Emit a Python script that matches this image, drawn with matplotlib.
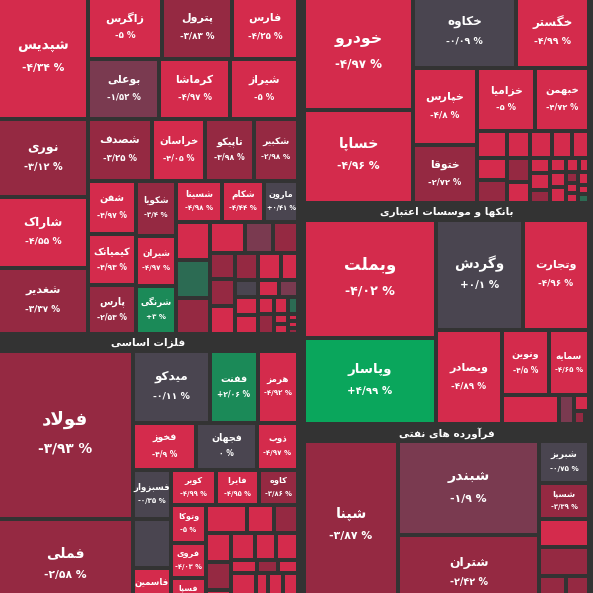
import matplotlib
matplotlib.use('Agg')
import matplotlib.pyplot as plt
from matplotlib.patches import Rectangle

plt.rcParams['font.family'] = ['DejaVu Sans']

# ---------------- data ----------------
sector_names = ['محصولات شیمیایی', 'فلزات اساسی', 'خودرو و ساخت قطعات',
                'بانکها و موسسات اعتباری', 'فرآورده های نفتی']

chem_names = ['شپدیس', 'نوری', 'شاراک', 'شغدیر', 'زاگرس', 'پترول', 'فارس', 'بوعلی',
              'کرماشا', 'شیراز', 'شصدف', 'خراسان', 'تاپیکو', 'شکبیر', 'شفن', 'کیمیاتک',
              'پارس', 'شکویا', 'شیران', 'شرنگی', 'شسینا', 'شکام', 'مارون'] + [''] * 26
chem_values = [110.7, 70.2, 63.9, 59.4, 46.6, 44.1, 41.6, 42.6, 42.6, 40.8, 39.7, 32.9,
               30.4, 27.3, 25.4, 24.5, 23.5, 22.0, 20.0, 19.2, 18.9, 17.2, 13.9,
               12.9, 12.9, 12.2, 10.9, 8.7, 7.8, 6.5, 6.8, 7.0, 6.2, 6.2, 4.6, 3.9, 3.6,
               3.2, 4.1, 4.4, 2.7, 2.4, 1.7, 3.2, 1.4, 1.4, 0.7, 0.7, 0.6]
chem_pct = [-4.34, -3.12, -4.55, -3.37, -5, -3.83, -4.25, -1.52, -4.97, -5, -3.25, -4.05,
            -3.98, -2.98, -4.97, -4.93, -2.53, -3.4, -4.97, 3, -4.98, -4.44, 0.41,
            -4.9, 1.5, -3.2, -4.9, -1.5, -3.2, -3.2, -3.2, -4.9, -3.2, -4.9, -4.9, 0,
            -4.9, -1.5, -4.9, -4.9, -4.9, -4.9, 1.5, -3.2, -4.9, -4.9, -4.9, -4.9, -3.2]

metal_names = ['فولاد', 'فملی', 'میدکو', 'ففنت', 'هرمز', 'فخوز', 'فجهان', 'ذوب', 'فسبزوار',
               '', 'فاسمین', 'کویر', 'فایرا', 'کاوه', 'وتوکا', 'فروی', 'فسپا'] + [''] * 16
metal_values = [230.9, 125.6, 56.2, 35.0, 29.2, 30.2, 29.3, 19.7, 19.0, 18.6, 16.7, 15.8,
                15.1, 13.7, 13.7, 12.6, 11.6, 11.9, 7.8, 7.0, 7.3, 7.3, 5.3, 6.5, 5.7, 5.9,
                3.6, 2.9, 2.8, 9.5, 4.6, 5.7, 5.7]
metal_pct = [-3.93, -2.58, -0.11, 2.06, -4.92, -4.9, 0, -4.97, -0.35, -0.2, -4.9, -4.99,
             -4.95, -3.86, -5, -4.03, -4.9, -4.9, -4.9, -3.2, -4.9, -3.2, -4.9, -4.9, -4.9,
             -4.9, -4.9, -3.2, -4.9, -4.9, -4.9, -4.9, -4.9]

auto_names = ['خودرو', 'خساپا', 'خکاوه', 'خگستر', 'خپارس', 'ختوقا', 'خزامیا', 'خبهمن'] + [''] * 23
auto_values = [128.0, 104.4, 76.4, 54.2, 50.8, 38.2, 37.6, 35.0, 8.3, 6.4, 6.1, 5.6, 4.7,
               6.8, 7.1, 5.7, 4.9, 3.1, 3.5, 2.7, 2.2, 2.5, 2.4, 1.9, 1.5, 1.4, 1.3, 1.3,
               1.4, 1.1, 0.9]
auto_pct = [-4.97, -4.96, -0.09, -4.99, -4.8, -2.72, -5, -4.72, -4.9, -4.9, -4.9, -4.9,
            -4.9, -4.9, -3.2, -3.2, -4.9, -4.9, -4.9, -3.2, -4.9, -4.9, -4.9, -4.9, -4.9,
            -3.2, -4.9, -4.9, -4.9, -4.9, 1.5]

bank_names = ['وبملت', 'وپاسار', 'وگردش', 'وتجارت', 'وبصادر', 'ونوین', 'سمایه', '', '', '', '', '']
bank_values = [161.8, 116.9, 99.5, 75.5, 63.9, 31.5, 26.8, 17.0, 4.5, 2.4, 1.5, 0.6]
bank_pct = [-4.02, 4.99, 0.1, -4.96, -4.89, -4.5, -4.65, -4.9, -1.5, -4.9, -3.2, 1.5]

oil_names = ['شپنا', 'شبندر', 'شتران', 'شبریز', 'شسپا', '', '', '', '']
oil_values = [167.5, 139.5, 111.9, 22.1, 18.5, 14.9, 14.9, 10.0, 8.5]
oil_pct = [-3.87, -1.9, -2.42, -0.75, -3.39, -4.9, -3.2, -3.2, -3.2]

# ---------------- layout trees (h = side by side, v = stacked) ----------------
chem_tree = ('h', [
    ('v', [0, 1, 2, 3]),
    ('v', [
        ('h', [4, 5, 6]),
        ('h', [7, 8, 9]),
        ('h', [10, 11, 12, 13]),
        ('h', [
            ('v', [14, 15, 16]),
            ('v', [17, 18, 19]),
            ('v', [
                ('h', [20, 21, 22]),
                ('h', [
                    ('v', [23, 24, 25]),
                    ('v', [
                        ('h', [26, 27, 28]),
                        ('h', [
                            ('v', [29, 30, 31]),
                            ('v', [
                                ('h', [32, 33, 34]),
                                ('h', [35, 36, 37]),
                                ('h', [
                                    ('v', [38, 39]),
                                    ('v', [
                                        ('h', [40, 41, 42]),
                                        ('h', [43, ('v', [44, 45]), ('v', [46, 47, 48])]),
                                    ]),
                                ]),
                            ]),
                        ]),
                    ]),
                ]),
            ]),
        ]),
    ]),
])

metal_tree = ('h', [
    ('v', [0, 1]),
    ('v', [
        ('h', [2, 3, 4]),
        ('h', [5, 6, 7]),
        ('h', [
            ('v', [8, 9, 10]),
            ('v', [
                ('h', [11, 12, 13]),
                ('h', [
                    ('v', [14, 15, 16]),
                    ('v', [
                        ('h', [17, 18, 19]),
                        ('h', [
                            ('v', [20, 21, 22]),
                            ('v', [('h', [23, 24, 25]), ('h', [26, 27, 28]),
                                   ('h', [29, 30, 31, 32])]),
                        ]),
                    ]),
                ]),
            ]),
        ]),
    ]),
])

auto_tree = ('h', [
    ('v', [0, 1]),
    ('v', [
        ('h', [2, 3]),
        ('h', [
            ('v', [4, 5]),
            ('v', [
                ('h', [6, 7]),
                ('h', [8, 9, 10, 11, 12]),
                ('h', [('v', [13, 14]), ('v', [15, 16]), ('v', [17, 18, 19]), ('v', [20, 21, 22]),
                       ('v', [('h', [23, 24]), ('h', [('v', [25, 26, 27]), ('v', [28, 29, 30])])])]),
            ]),
        ]),
    ]),
])

bank_tree = ('h', [
    ('v', [0, 1]),
    ('v', [
        ('h', [2, 3]),
        ('h', [4, ('v', [('h', [5, 6]), ('h', [7, 8, ('v', [9, ('h', [10, 11])])])])]),
    ]),
])

oil_tree = ('h', [0, ('v', [1, 2]), ('v', [3, 4, 5, 6, ('h', [7, 8])])])

sectors = [
    (chem_names, chem_values, chem_pct, chem_tree),
    (metal_names, metal_values, metal_pct, metal_tree),
    (auto_names, auto_values, auto_pct, auto_tree),
    (bank_names, bank_values, bank_pct, bank_tree),
    (oil_names, oil_values, oil_pct, oil_tree),
]
top_tree = ('h', [('v', [0, 1]), ('v', [2, 3, 4])])

CANVAS = (-5, -18, 592, 614)   # visible window is 0..593
HEADER, PAD, GAP = 14, 3, 2
BG = '#333333'


def total(node, vals):
    if isinstance(node, int):
        return vals[node]
    return sum(total(k, vals) for k in node[1])


def place(node, vals, x0, y0, x1, y1, out):
    if isinstance(node, int):
        out[node] = (x0, y0, x1, y1)
        return
    kind, kids = node
    sums = [total(k, vals) for k in kids]
    s = sum(sums)
    pos = x0 if kind == 'h' else y0
    for k, w in zip(kids, sums):
        if kind == 'h':
            nxt = pos + (x1 - x0) * w / s
            place(k, vals, pos, y0, nxt, y1, out)
        else:
            nxt = pos + (y1 - y0) * w / s
            place(k, vals, x0, pos, x1, nxt, out)
        pos = nxt


# ---------- minimal Persian shaping (DejaVu Sans has presentation forms) ----------
FORMS = {
    'ا': ('\uFE8D', '\uFE8E', None, None), 'آ': ('\uFE81', '\uFE82', None, None),
    'ب': ('\uFE8F', '\uFE90', '\uFE91', '\uFE92'), 'پ': ('\uFB56', '\uFB57', '\uFB58', '\uFB59'),
    'ت': ('\uFE95', '\uFE96', '\uFE97', '\uFE98'), 'ج': ('\uFE9D', '\uFE9E', '\uFE9F', '\uFEA0'),
    'خ': ('\uFEA5', '\uFEA6', '\uFEA7', '\uFEA8'), 'د': ('\uFEA9', '\uFEAA', None, None),
    'ذ': ('\uFEAB', '\uFEAC', None, None), 'ر': ('\uFEAD', '\uFEAE', None, None),
    'ز': ('\uFEAF', '\uFEB0', None, None), 'س': ('\uFEB1', '\uFEB2', '\uFEB3', '\uFEB4'),
    'ش': ('\uFEB5', '\uFEB6', '\uFEB7', '\uFEB8'), 'ص': ('\uFEB9', '\uFEBA', '\uFEBB', '\uFEBC'),
    'ع': ('\uFEC9', '\uFECA', '\uFECB', '\uFECC'), 'غ': ('\uFECD', '\uFECE', '\uFECF', '\uFED0'),
    'ف': ('\uFED1', '\uFED2', '\uFED3', '\uFED4'), 'ق': ('\uFED5', '\uFED6', '\uFED7', '\uFED8'),
    'ک': ('\uFB8E', '\uFB8F', '\uFB90', '\uFB91'), 'گ': ('\uFB92', '\uFB93', '\uFB94', '\uFB95'),
    'ل': ('\uFEDD', '\uFEDE', '\uFEDF', '\uFEE0'), 'م': ('\uFEE1', '\uFEE2', '\uFEE3', '\uFEE4'),
    'ن': ('\uFEE5', '\uFEE6', '\uFEE7', '\uFEE8'), 'ه': ('\uFEE9', '\uFEEA', '\uFEEB', '\uFEEC'),
    'و': ('\uFEED', '\uFEEE', None, None), 'ی': ('\uFBFC', '\uFBFD', '\uFBFE', '\uFBFF'),
}
LAM_ALEF = {'ا': ('\uFEFB', '\uFEFC'), 'آ': ('\uFEF5', '\uFEF6')}


def shape(text):
    text = text.replace('ي', 'ی').replace('ك', 'ک')
    out, prev, i = [], None, 0
    while i < len(text):
        c = text[i]
        if c not in FORMS:
            out.append(c)
            prev = None
            i += 1
            continue
        nxt = text[i + 1] if i + 1 < len(text) else ''
        pj = prev is not None and FORMS[prev][2] is not None
        if c == 'ل' and nxt in LAM_ALEF:
            out.append(LAM_ALEF[nxt][1 if pj else 0])
            prev = 'ا'
            i += 2
            continue
        nj = nxt in FORMS and FORMS[c][2] is not None
        iso, fin, ini, med = FORMS[c]
        out.append(med if pj and nj else fin if pj else ini if nj else iso)
        prev = c
        i += 1
    return ''.join(reversed(out))


FA_DIGITS = str.maketrans('0123456789.', '۰۱۲۳۴۵۶۷۸۹/')


def fmt_pct(p):
    s = f'{abs(p):.2f}'.rstrip('0').rstrip('.')
    sign = '-' if p < 0 else '+' if p > 0 else ''
    return sign + s.translate(FA_DIGITS) + ' %'


def tile_color(p):
    if p <= -4:
        return '#d42b4c'
    if p <= -2:
        return '#952942'
    if p <= -1:
        return '#7a3a50'
    if p < 1:
        return '#4a4550'
    if p < 2:
        return '#2c6b53'
    if p < 4:
        return '#1b8a58'
    return '#0aa65c'


fig = plt.figure(figsize=(5.93, 5.93), dpi=100)
fig.patch.set_facecolor(BG)
ax = fig.add_axes([0, 0, 1, 1])
ax.set_facecolor(BG)
ax.set_xlim(0, 593)
ax.set_ylim(593, 0)
ax.axis('off')

PT = 0.72  # px -> pt at 100 dpi

sector_rects = {}
place(top_tree, [sum(s[1]) for s in sectors], *CANVAS, sector_rects)

for si, (names, vals, pcts, tree) in enumerate(sectors):
    sx0, sy0, sx1, sy1 = sector_rects[si]
    if sy0 >= 0:   # headers of the top sectors lie above the visible window
        ax.text((sx0 + sx1) / 2, sy0 + HEADER / 2 - 1, shape(sector_names[si]), color='white',
                fontsize=10.5 * PT, fontweight='bold', ha='center', va='center', clip_on=True)
    cells = {}
    place(tree, vals, sx0 + PAD, sy0 + HEADER, sx1 - PAD, sy1 - PAD, cells)
    for i, (x0, y0, x1, y1) in cells.items():
        w = max(x1 - x0 - 2 * GAP, 0.8)
        h = max(y1 - y0 - 2 * GAP, 0.8)
        ax.add_patch(Rectangle((x0 + GAP, y0 + GAP), w, h, facecolor=tile_color(pcts[i]),
                               edgecolor='none'))
        if names[i]:
            m = min(w, h)
            ns = 0.1 * m + 5.2
            vs = 0.07 * m + 4.6
            cx, cy = (x0 + x1) / 2, (y0 + y1) / 2
            ax.text(cx, cy - 0.85 * ns, shape(names[i]), color='white', fontsize=ns * PT,
                    fontweight='bold', ha='center', va='center', clip_on=True)
            ax.text(cx, cy + 0.95 * vs, fmt_pct(pcts[i]), color='white', fontsize=vs * PT,
                    fontweight='bold', ha='center', va='center', clip_on=True)

fig.savefig('out.png', dpi=100, facecolor=BG)
